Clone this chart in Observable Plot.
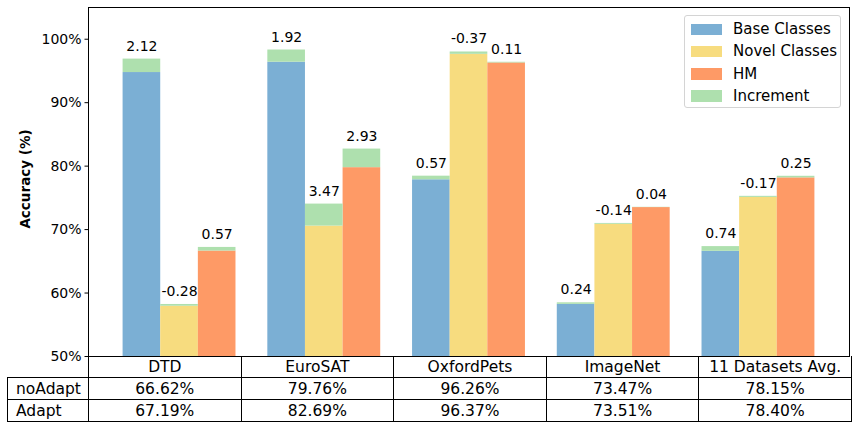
<!DOCTYPE html>
<html>
<head>
<meta charset="utf-8">
<script src="https://cdn.jsdelivr.net/npm/d3@7"></script>
<script src="https://cdn.jsdelivr.net/npm/@observablehq/plot@0.6"></script>
<style>
  html, body { margin: 0; padding: 0; background: white; }
  body { font-family: "DejaVu Sans", sans-serif; }
  #wrap { position: relative; width: 856px; height: 429px; overflow: hidden; }
  #legend { position: absolute; left: 684px; top: 15px; width: 157px; height: 93px;
            border: 1px solid #d4d4d4; border-radius: 3px; background: rgba(255,255,255,0.85); box-sizing: border-box; }
  .lrow { position: absolute; left: 0; height: 20px; font-size: 15px; line-height: 20px; white-space: nowrap; }
  .lsw { position: absolute; left: 6px; top: 4.5px; width: 31px; height: 11.5px; }
  .ltx { position: absolute; left: 48px; top: 0; }
  #tbl { position: absolute; left: 7px; top: 356px; border-collapse: collapse; table-layout: fixed;
         font-size: 15.5px; }
  #tbl td { border: 1px solid black; height: 21px; padding: 0; text-align: center; white-space: nowrap; overflow: hidden; line-height: 20px; }
  #tbl td.rl { text-align: left; padding-left: 8px; }
  #tbl td.blank { border-top: none; border-left: none; }
</style>
</head>
<body>
<div id="wrap"></div>
<script>
// ---- data ----
const groups = ["DTD", "EuroSAT", "OxfordPets", "ImageNet", "11 Datasets Avg."];
const seriesNames = ["Base Classes", "Novel Classes", "HM"];
const baseValues = [94.75, 96.38, 77.85, 58.22, 66.58];
const baseIncrements = [2.12, 1.92, 0.57, 0.24, 0.74];
const novelValues = [57.92, 70.55, 97.62, 70.83, 75.07];
const novelIncrements = [-0.28, 3.47, -0.37, -0.14, -0.17];
const hmNoAdapt = [66.62, 79.76, 96.26, 73.47, 78.15];
const hmAdapt = [67.19, 82.69, 96.37, 73.51, 78.40];
const rowLabels = ["noAdapt", "Adapt"];
const yTicks = [50, 60, 70, 80, 90, 100];
const legendNames = ["Base Classes", "Novel Classes", "HM", "Increment"];

const colors = {"Base Classes": "#7bafd4", "Novel Classes": "#f7dc7f", "HM": "#fe9a66", "Increment": "#aee0ae"};

// ---- build table of bars ----
const barWidth = 0.26;
const rows = [];
groups.forEach((g, i) => {
  const hmInc = Math.round((hmAdapt[i] - hmNoAdapt[i]) * 100) / 100;
  const vals = [baseValues[i], novelValues[i], hmNoAdapt[i]];
  const incs = [baseIncrements[i], novelIncrements[i], hmInc];
  seriesNames.forEach((s, k) => {
    const center = i + (k - 1) * barWidth;
    rows.push({group: g, series: s, value: vals[k], inc: incs[k],
               x1: center - barWidth / 2, x2: center + barWidth / 2, xc: center});
  });
});

const yMin = 50, yMax = 105;

const chart = Plot.plot({
  width: 856,
  height: 429,
  marginTop: 7,
  marginRight: 7,
  marginBottom: 73,
  marginLeft: 88,
  style: {fontFamily: "DejaVu Sans, sans-serif", fontSize: "14px", background: "white", color: "black"},
  x: {domain: [-0.629, 4.629], axis: null},
  y: {domain: [yMin, yMax], axis: null},
  marks: [
    Plot.rect(rows, {x1: "x1", x2: "x2", y1: () => yMin, y2: "value", fill: d => colors[d.series]}),
    Plot.rect(rows, {x1: "x1", x2: "x2", y1: "value", y2: d => d.value + Math.abs(d.inc), fill: colors["Increment"]}),
    Plot.text(rows, {x: "xc", y: d => d.value + Math.abs(d.inc), text: d => d.inc.toFixed(2),
                     lineAnchor: "bottom", dy: -8.5, fontSize: 14, fill: "black"}),
    Plot.axisY({ticks: yTicks, tickFormat: d => d + "%", tickSize: 3.5, tickPadding: 3.5, label: null, fontSize: 14}),
    Plot.text(["Accuracy (%)"], {frameAnchor: "left", textAnchor: "middle", rotate: -90, dx: -63, dy: -3, text: d => d,
                                 fontWeight: "bold", fontSize: 13.5, fill: "black"}),
    Plot.frame({stroke: "black", strokeWidth: 1})
  ]
});

const wrap = document.getElementById("wrap");
wrap.appendChild(chart);

// ---- legend ----
const legend = document.createElement("div");
legend.id = "legend";
legendNames.forEach((name, j) => {
  const r = document.createElement("div");
  r.className = "lrow";
  r.style.top = (3 + j * 22.3) + "px";
  r.innerHTML = `<div class="lsw" style="background:${colors[name]}"></div><div class="ltx">${name}</div>`;
  legend.appendChild(r);
});
wrap.appendChild(legend);

// ---- table ----
const tbl = document.createElement("table");
tbl.id = "tbl";
const colgroup = document.createElement("colgroup");
const c0 = document.createElement("col"); c0.style.width = "81px"; colgroup.appendChild(c0);
groups.forEach(() => { const c = document.createElement("col"); c.style.width = "152.6px"; colgroup.appendChild(c); });
tbl.appendChild(colgroup);
const header = document.createElement("tr");
header.innerHTML = `<td class="blank"></td>` + groups.map(g => `<td style="border-top:none">${g}</td>`).join("");
tbl.appendChild(header);
[hmNoAdapt, hmAdapt].forEach((arr, r) => {
  const tr = document.createElement("tr");
  tr.innerHTML = `<td class="rl">${rowLabels[r]}</td>` + arr.map(v => `<td>${v.toFixed(2)}%</td>`).join("");
  tbl.appendChild(tr);
});
wrap.appendChild(tbl);
</script>
</body>
</html>
